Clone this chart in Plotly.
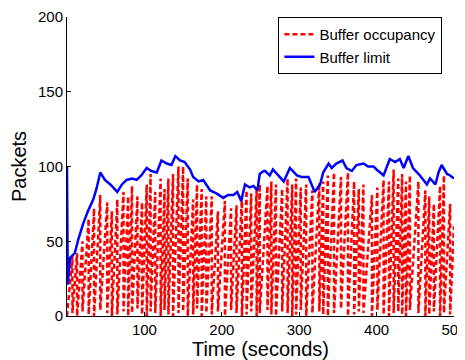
import plotly.graph_objects as go

# buffer limit (blue)
limit_t = [0, 1, 4, 10, 15, 21, 27, 34, 38, 43, 49, 56, 65, 71, 77, 84, 90, 96, 103, 109,
           116, 122, 129, 135, 140, 146, 152, 159, 163, 170, 176, 185, 193, 202, 208, 215, 220, 225, 230, 236,
           241, 246, 249, 254, 256, 262, 266, 273, 280, 288, 297, 303, 312, 316, 320, 327, 331, 338, 342, 348,
           356, 361, 368, 374, 383, 389, 396, 400, 409, 417, 424, 430, 435, 441, 447, 456, 465, 469, 476, 480,
           484, 491, 495, 500]
limit_v = [100, 21, 39, 42, 52, 62, 70, 78, 85, 96, 91, 88, 83, 88, 91, 92, 91, 94, 99, 97,
           96, 104, 102, 101, 107, 104, 103, 98, 93, 90, 91, 84, 82, 79, 81, 81, 83, 77, 88, 86,
           87, 84, 95, 97, 97, 94, 98, 94, 90, 99, 94, 93, 93, 88, 83, 88, 96, 102, 99, 102,
           104, 99, 97, 101, 102, 100, 100, 98, 94, 105, 103, 105, 99, 107, 99, 94, 88, 92, 88, 96,
           101, 95, 94, 92]

# buffer occupancy (red): peak times / peak values / value right after each drop
peak_t = [7, 13, 20, 28, 35, 43, 52, 58, 65, 73, 79, 84, 91, 97, 103, 108, 114, 121, 126, 131,
          137, 144, 150, 156, 163, 168, 174, 180, 187, 195, 204, 212, 219, 226, 232, 238, 245, 249, 259, 264,
          270, 278, 285, 291, 296, 302, 309, 317, 326, 331, 337, 345, 354, 363, 371, 377, 383, 394, 401, 409,
          416, 422, 428, 433, 438, 443, 454, 463, 468, 474, 482, 487, 495]
peak_v = [40, 42, 50, 65, 72, 81, 76, 70, 78, 83, 80, 87, 80, 76, 88, 95, 83, 92, 85, 92,
          95, 100, 100, 92, 78, 88, 85, 80, 80, 70, 77, 72, 74, 80, 84, 82, 85, 88, 87, 90,
          88, 85, 92, 88, 92, 86, 88, 84, 89, 90, 94, 96, 93, 96, 90, 85, 88, 81, 86, 91,
          90, 98, 92, 95, 90, 94, 90, 84, 80, 75, 87, 94, 75]
drop_v = [2, 0, 3, 1, 0, 4, 2, 0, 1, 3, 0, 2, 5, 1, 0, 3, 2, 0, 4, 1,
          0, 2, 3, 0, 1, 5, 0, 2, 1, 3, 0, 4, 2, 0, 1, 3, 0, 2, 4, 1,
          0, 3, 2, 0, 1, 4, 0, 2, 3, 1, 0, 2, 5, 0, 1, 3, 2, 0, 4, 1,
          0, 2, 3, 1, 0, 4, 2, 0, 1, 3, 0, 2, 1]

occ_t = [0]
occ_v = [0]
for t, p, d in zip(peak_t, peak_v, drop_v):
    occ_t += [t, t]
    occ_v += [p, d]
occ_t.append(500)
occ_v.append(60)

fig = go.Figure()
fig.add_trace(go.Scatter(x=occ_t, y=occ_v, mode="lines", name="Buffer occupancy",
                         line=dict(color="#ff0000", width=2.5, dash="5px,3px")))
fig.add_trace(go.Scatter(x=limit_t, y=limit_v, mode="lines", name="Buffer limit",
                         line=dict(color="#0000ff", width=2.5)))

# the page body adds 8px on the left and top, so margins are offset by that
axis_font = dict(family="Liberation Sans, Arial, sans-serif", size=15, color="black")
fig.update_layout(
    width=465, height=360,
    margin=dict(l=59, r=19, t=9, b=52),
    paper_bgcolor="white", plot_bgcolor="white",
    font=dict(family="Liberation Sans, Arial, sans-serif", color="black"),
    showlegend=True,
    legend=dict(x=0.97, y=1.0, xanchor="right", yanchor="top",
                bgcolor="white", bordercolor="black", borderwidth=1,
                font=dict(size=15), tracegroupgap=0, itemwidth=30),
    xaxis=dict(range=[0, 500], tickvals=[100, 200, 300, 400, 500],
               showline=True, linecolor="black", linewidth=1, mirror=False,
               ticks="inside", ticklen=4, tickcolor="black",
               showgrid=False, zeroline=False, tickfont=axis_font,
               ticklabeloverflow="allow", automargin=False,
               title=dict(text="Time (seconds)", font=dict(size=20), standoff=1)),
    yaxis=dict(range=[0, 200], tickvals=[0, 50, 100, 150, 200],
               showline=True, linecolor="black", linewidth=1, mirror=False,
               ticks="inside", ticklen=4, tickcolor="black",
               showgrid=False, zeroline=False, tickfont=axis_font,
               ticklabeloverflow="allow", automargin=False,
               title=dict(text="Packets", font=dict(size=20), standoff=5)),
)

fig.write_html("out.html")
